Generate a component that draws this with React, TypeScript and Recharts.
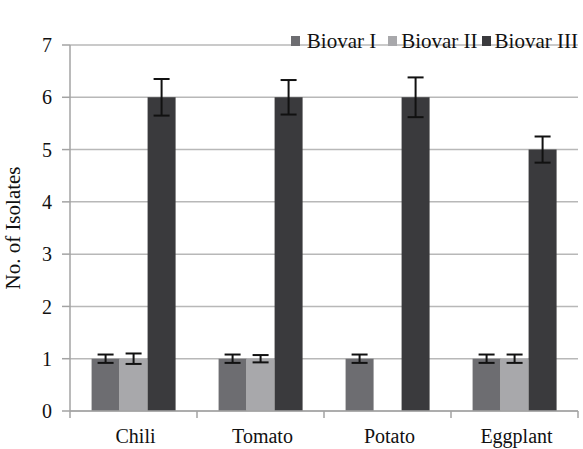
import React from "react";
import { BarChart, Bar, XAxis, YAxis, CartesianGrid, Legend, ErrorBar } from "recharts";

const categories = ["Chili", "Tomato", "Potato", "Eggplant"];
const biovarI = [1, 1, 1, 1];
const biovarII = [1, 1, 0, 1];
const biovarIII = [6, 6, 6, 5];
const errI = [0.08, 0.08, 0.08, 0.08];
const errII = [0.1, 0.07, 0, 0.08];
const errIII = [0.35, 0.33, 0.38, 0.25];
const yTicks = [0, 1, 2, 3, 4, 5, 6, 7];

const seriesNames = ["Biovar I", "Biovar II", "Biovar III"];
const seriesColors = ["#6d6d71", "#a8a8ab", "#3a3a3d"];

const data = categories.map((name, i) => ({
  name,
  b1: biovarI[i],
  b2: biovarII[i],
  b3: biovarIII[i],
  e1: errI[i],
  e2: errII[i],
  e3: errIII[i],
}));

const FONT = "Liberation Serif, Times New Roman, serif";
const AXIS = "#a3a3a3";

// category label centred, tick marks drawn on the band edges
const CategoryTick = (props: any) => {
  const { x, y, payload, index } = props;
  const half = payload?.offset || 63.5;
  return (
    <g>
      <line x1={x - half} y1={y - 8} x2={x - half} y2={y - 1} stroke={AXIS} strokeWidth={1.5} />
      {index === categories.length - 1 && (
        <line x1={x + half} y1={y - 8} x2={x + half} y2={y - 1} stroke={AXIS} strokeWidth={1.5} />
      )}
      <text x={x + 2} y={y + 24} textAnchor="middle" fill="#111" fontSize={20} fontFamily={FONT}>
        {payload.value}
      </text>
    </g>
  );
};

const LegendBox = () => (
  <div style={{ display: "flex", alignItems: "center", fontFamily: FONT, fontSize: 21, color: "#111", lineHeight: "22px" }}>
    {seriesNames.map((n, i) => (
      <span key={n} style={{ display: "flex", alignItems: "center", marginRight: i === 0 ? 12 : 4 }}>
        <span style={{ display: "inline-block", width: 9, height: 10, background: seriesColors[i], marginRight: i === 0 ? 7 : 4 }} />
        {n}
      </span>
    ))}
  </div>
);

export default function App() {
  return (
    <div style={{ position: "absolute", left: 0, top: 0, width: 583, height: 449, background: "#fff" }}>
      <BarChart
        width={583}
        height={449}
        data={data}
        margin={{ top: 23, right: 5, left: 0, bottom: 0 }}
        barCategoryGap="17%"
        barGap={0}
        style={{ fontFamily: FONT }}
      >
        <CartesianGrid vertical={false} stroke="#b8b8b8" strokeWidth={1.5} />
        <XAxis
          dataKey="name"
          height={38}
          axisLine={{ stroke: AXIS, strokeWidth: 1.5 }}
          tickLine={false}
          tick={<CategoryTick />}
          interval={0}
        />
        <YAxis
          width={70}
          domain={[0, 7]}
          ticks={yTicks}
          interval={0}
          axisLine={{ stroke: AXIS, strokeWidth: 1.5 }}
          tickLine={{ stroke: AXIS, strokeWidth: 1.5 }}
          tickSize={8}
          tickMargin={10}
          tick={{ fill: "#111", fontSize: 20, fontFamily: FONT }}
          label={{
            value: "No. of Isolates",
            angle: -90,
            position: "insideLeft",
            offset: 13,
            style: { textAnchor: "middle", fill: "#111", fontSize: 21, fontFamily: FONT },
          }}
        />
        <Legend
          verticalAlign="top"
          align="right"
          content={<LegendBox />}
          wrapperStyle={{ top: 30, right: 1, left: "auto", width: "auto" }}
        />
        <Bar dataKey="b1" name={seriesNames[0]} fill={seriesColors[0]} isAnimationActive={false}>
          <ErrorBar dataKey="e1" width={8} stroke="#111" strokeWidth={2} />
        </Bar>
        <Bar dataKey="b2" name={seriesNames[1]} fill={seriesColors[1]} isAnimationActive={false}>
          <ErrorBar dataKey="e2" width={8} stroke="#111" strokeWidth={2} />
        </Bar>
        <Bar dataKey="b3" name={seriesNames[2]} fill={seriesColors[2]} isAnimationActive={false}>
          <ErrorBar dataKey="e3" width={8} stroke="#111" strokeWidth={2} />
        </Bar>
      </BarChart>
    </div>
  );
}
